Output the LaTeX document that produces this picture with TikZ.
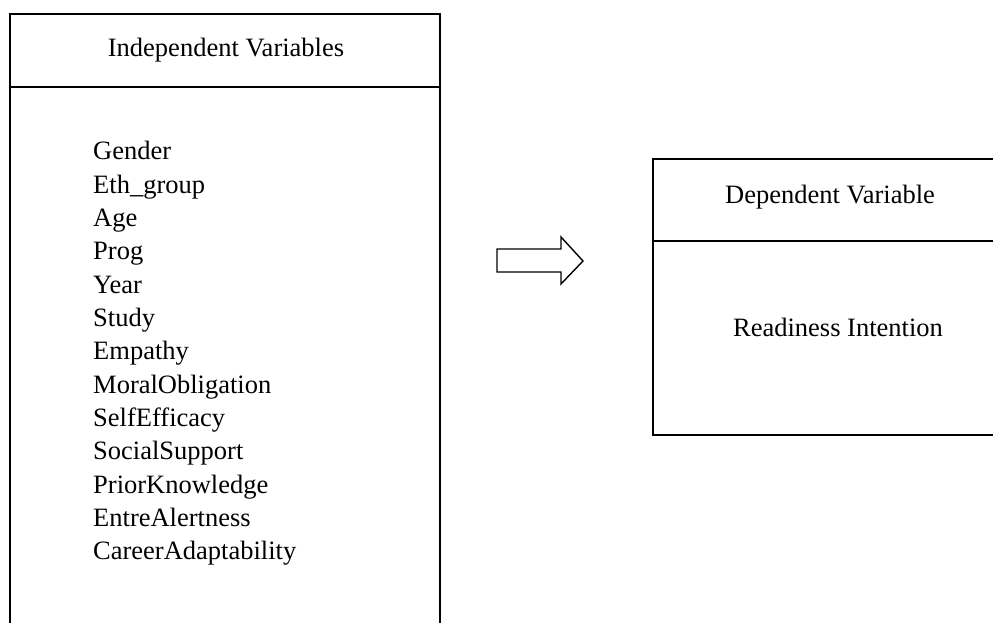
\documentclass[tikz,border=0pt]{standalone}
\usepackage{fontspec}
\setmainfont{Liberation Serif}
\begin{document}
\begin{tikzpicture}[x=1pt,y=-1pt,
  boxline/.style={draw=black, line width=2pt},
  lbl/.style={inner sep=0pt, font=\fontsize{26.5}{33}\selectfont},
  arrowline/.style={draw=black, line width=1.4pt, line join=miter, fill=white}]
\useasboundingbox (0,0) rectangle (993,623);
\clip (0,0) rectangle (993,623);
% left box
\draw[boxline] (10,14) rectangle (440,660);
\draw[boxline] (10,87) -- (440,87);
\node[lbl, anchor=base] (indep) at (226,57) {Independent Variables};
\foreach \t [count=\i] in {Gender,Eth\_group,Age,Prog,Year,Study,Empathy,MoralObligation,SelfEfficacy,SocialSupport,PriorKnowledge,EntreAlertness,CareerAdaptability}{
  \node[lbl, anchor=base west] (v\i) at (93,{160+(\i-1)*33.33}) {\t};
}
% arrow
\draw[arrowline] (497,249) -- (561,249) -- (561,237) -- (583,261) -- (561,284) -- (561,272) -- (497,272) -- cycle;
% right box
\draw[boxline] (653,159) rectangle (1010,435);
\draw[boxline] (653,241) -- (1010,241);
\node[lbl, anchor=base] (dep) at (830,203) {Dependent Variable};
\node[lbl, anchor=base] (ri) at (838,336) {Readiness Intention};
\end{tikzpicture}
\end{document}
